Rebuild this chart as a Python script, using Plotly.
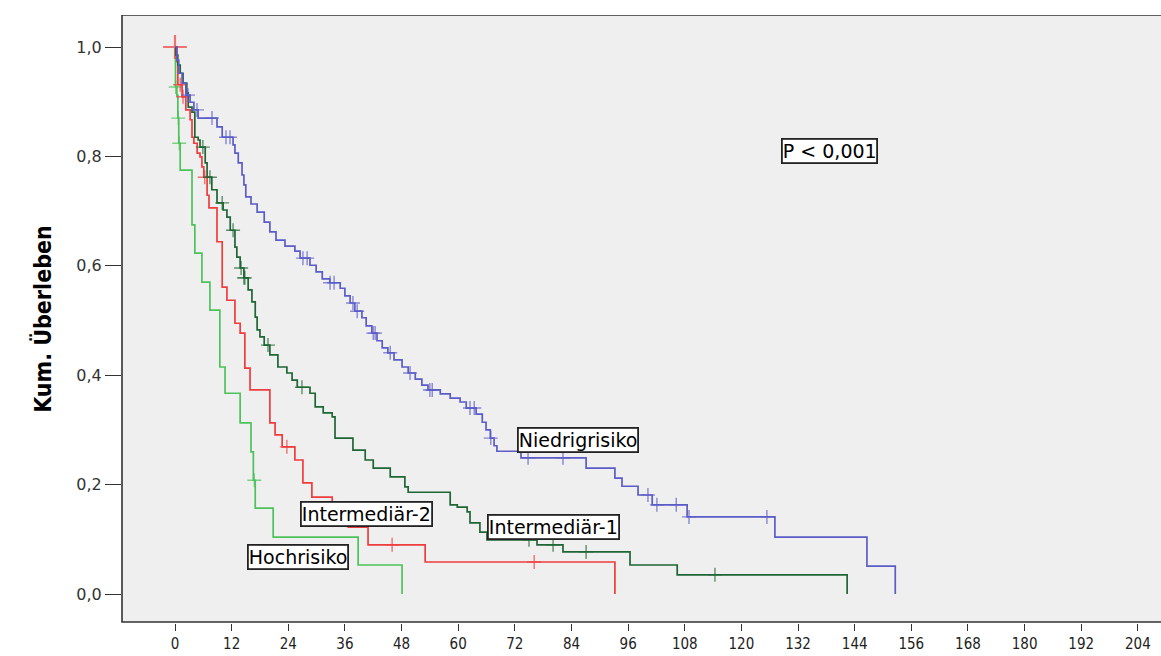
import numpy as np
import plotly.graph_objects as go

# Kaplan-Meier step data: event times (months) and survival after each event
niedrig_t = [0, 0.4, 0.8, 1.5, 2.3, 3.2, 4.0, 4.9, 8.9, 10.0, 12.3, 12.7, 13.4, 14.2, 14.6, 15.0,
             16.1, 17.4, 18.9, 20.1, 21.4, 23.3, 25.4, 26.5, 28.6, 29.9, 31.2, 32.8, 35.0, 36.0,
             37.1, 38.1, 39.6, 40.5, 41.7, 42.8, 43.9, 45.1, 46.4, 48.1, 49.4, 50.9, 52.3, 53.6,
             56.2, 58.3, 60.4, 61.7, 63.8, 65.1, 65.9, 66.8, 67.6, 68.2, 73.3, 87.1, 93.2, 94.7,
             98.1, 101.1, 108.5, 127.1, 146.6, 152.6]
niedrig_s = [1.0, 0.976, 0.952, 0.934, 0.912, 0.899, 0.885, 0.870, 0.854, 0.835, 0.821, 0.806,
             0.788, 0.766, 0.748, 0.726, 0.713, 0.698, 0.680, 0.662, 0.647, 0.636, 0.627, 0.614,
             0.601, 0.589, 0.576, 0.569, 0.559, 0.545, 0.532, 0.517, 0.505, 0.490, 0.477, 0.463,
             0.450, 0.441, 0.428, 0.415, 0.404, 0.393, 0.382, 0.373, 0.366, 0.358, 0.351, 0.340,
             0.329, 0.314, 0.300, 0.285, 0.271, 0.261, 0.249, 0.230, 0.212, 0.197, 0.181, 0.163,
             0.141, 0.104, 0.051, 0.0]
niedrig_cens = [2.75, 4.66, 7.84, 10.8, 11.65, 27.1, 28.0, 32.85, 33.7, 37.7, 38.6, 42.0, 42.4,
                45.6, 49.8, 54.0, 54.5, 62.5, 63.4, 66.9, 74.8, 82.2, 100.2, 102.1, 106.2, 108.9,
                125.4]

inter1_t = [0, 0.2, 0.6, 1.1, 1.7, 2.5, 2.8, 3.6, 4.2, 4.9, 5.3, 6.4, 6.8, 7.8, 8.9, 10.2, 11.0,
            11.7, 12.7, 13.1, 13.8, 14.6, 15.5, 16.3, 17.0, 17.4, 18.0, 18.9, 20.1, 21.8, 23.7,
            24.8, 25.9, 28.6, 29.7, 31.4, 33.3, 33.9, 37.7, 40.3, 42.0, 45.6, 48.7, 49.4, 58.3,
            59.8, 61.9, 62.5, 64.6, 66.1, 76.7, 82.2, 96.4, 106.4, 142.4]
inter1_s = [1.0, 0.985, 0.967, 0.952, 0.934, 0.916, 0.890, 0.881, 0.835, 0.830, 0.817, 0.788,
            0.762, 0.739, 0.715, 0.702, 0.689, 0.665, 0.634, 0.616, 0.596, 0.578, 0.556, 0.534,
            0.506, 0.483, 0.470, 0.455, 0.437, 0.415, 0.404, 0.391, 0.378, 0.367, 0.342, 0.331,
            0.324, 0.285, 0.263, 0.245, 0.230, 0.214, 0.196, 0.186, 0.163, 0.159, 0.150, 0.130,
            0.113, 0.099, 0.090, 0.077, 0.053, 0.035, 0.0]
inter1_cens = [5.9, 7.4, 10.0, 12.3, 14.0, 14.6, 14.8, 19.7, 26.9, 75.0, 80.1, 87.1, 114.4]

inter2_t = [0, 0.4, 0.6, 1.5, 2.3, 3.2, 3.6, 4.0, 4.7, 5.3, 5.7, 6.1, 6.8, 7.2, 8.9, 10.0, 11.0,
            12.7, 13.8, 14.8, 15.9, 20.1, 21.2, 22.7, 25.4, 27.1, 29.0, 33.3, 36.7, 40.9, 53.0,
            93.2]
inter2_s = [1.0, 0.973, 0.931, 0.909, 0.885, 0.867, 0.835, 0.824, 0.806, 0.799, 0.781, 0.762,
            0.729, 0.706, 0.644, 0.561, 0.537, 0.495, 0.477, 0.413, 0.373, 0.313, 0.291, 0.269,
            0.245, 0.203, 0.177, 0.150, 0.122, 0.090, 0.0585, 0.0]
inter2_cens = [0.0, 1.1, 1.7, 6.3, 23.7, 46.0, 76.1]

hoch_t = [0, 0.1, 0.4, 0.6, 0.8, 1.1, 3.6, 4.2, 5.7, 7.4, 9.5, 10.6, 13.8, 16.1, 16.6, 17.0,
          20.8, 38.8, 48.1]
hoch_s = [1.0, 0.927, 0.912, 0.870, 0.824, 0.775, 0.675, 0.623, 0.570, 0.519, 0.415, 0.367,
          0.313, 0.260, 0.208, 0.157, 0.104, 0.053, 0.0]
hoch_cens = [0.15, 0.7, 0.9, 16.8]

month_ticks = list(range(0, 205, 12))
surv_ticks = [0.0, 0.2, 0.4, 0.6, 0.8, 1.0]
surv_labels = ["0,0", "0,2", "0,4", "0,6", "0,8", "1,0"]

groups = [
    ("Hochrisiko", hoch_t, hoch_s, hoch_cens, "#4cc35a"),
    ("Intermediär-2", inter2_t, inter2_s, inter2_cens, "#f03c3c"),
    ("Intermediär-1", inter1_t, inter1_s, inter1_cens, "#1e6634"),
    ("Niedrigrisiko", niedrig_t, niedrig_s, niedrig_cens, "#5c5cc8"),
]


def level_at(times, surv, t):
    idx = np.searchsorted(np.asarray(times), t, side="right") - 1
    return float(np.asarray(surv)[max(idx, 0)])


fig = go.Figure()
for name, t, s, cens, color in groups:
    fig.add_trace(go.Scatter(
        x=t, y=s, mode="lines", line=dict(color=color, width=1.7, shape="hv"),
        name=name, showlegend=False, hoverinfo="skip"))
    cy = [level_at(t, s, c) for c in cens]
    sizes = [17 if c == 0 else 10 for c in cens]
    widths = [2.2 if c == 0 else 1.4 for c in cens]
    fig.add_trace(go.Scatter(
        x=cens, y=cy, mode="markers",
        marker=dict(symbol="cross-thin", size=sizes, color=color,
                    line=dict(color=color, width=widths)),
        showlegend=False, hoverinfo="skip"))

# plot frame with grey fill
fig.add_shape(type="rect", xref="paper", yref="y", x0=0, x1=1.05, y0=-0.0512, y1=1.0585,
              fillcolor="#efefef", line=dict(color="#333333", width=1.6), layer="below")

label_font = dict(family="DejaVu Sans, Liberation Sans, sans-serif", size=19, color="black")
labels = [
    ("P < 0,001", 138.6, 0.81),
    ("Niedrigrisiko", 85.4, 0.282),
    ("Intermediär-1", 80.1, 0.1225),
    ("Intermediär-2", 40.5, 0.146),
    ("Hochrisiko", 26.1, 0.0676),
]
for text, x, y in labels:
    fig.add_annotation(x=x, y=y, text=text, showarrow=False, font=label_font,
                       bgcolor="white", bordercolor="#222222", borderwidth=1.8, borderpad=0)

condensed = "DejaVu Sans Condensed, Liberation Sans Narrow, Arial Narrow, sans-serif"
fig.update_layout(
    width=1161, height=656,
    margin=dict(l=122, r=0, t=15, b=33),
    paper_bgcolor="white", plot_bgcolor="white",
    xaxis=dict(range=[-11.23, 208.9], tickvals=month_ticks, ticks="outside", ticklen=7,
               tickwidth=1.4, tickcolor="#333333", showgrid=False, zeroline=False,
               showline=False, automargin=False,
               tickfont=dict(family=condensed, size=15, color="#222222")),
    yaxis=dict(range=[-0.053, 1.0585], tickvals=surv_ticks, ticktext=surv_labels,
               ticks="outside", ticklen=16, tickwidth=1.4, tickcolor="#333333",
               showgrid=False, zeroline=False, showline=False, automargin=False,
               tickfont=dict(family="DejaVu Sans, Liberation Sans, sans-serif", size=16,
                             color="#333333"),
               title=dict(text="<b>Kum. Überleben</b>", standoff=18,
                          font=dict(family=condensed, size=23, color="black"))),
)

fig.write_html("out.html")
